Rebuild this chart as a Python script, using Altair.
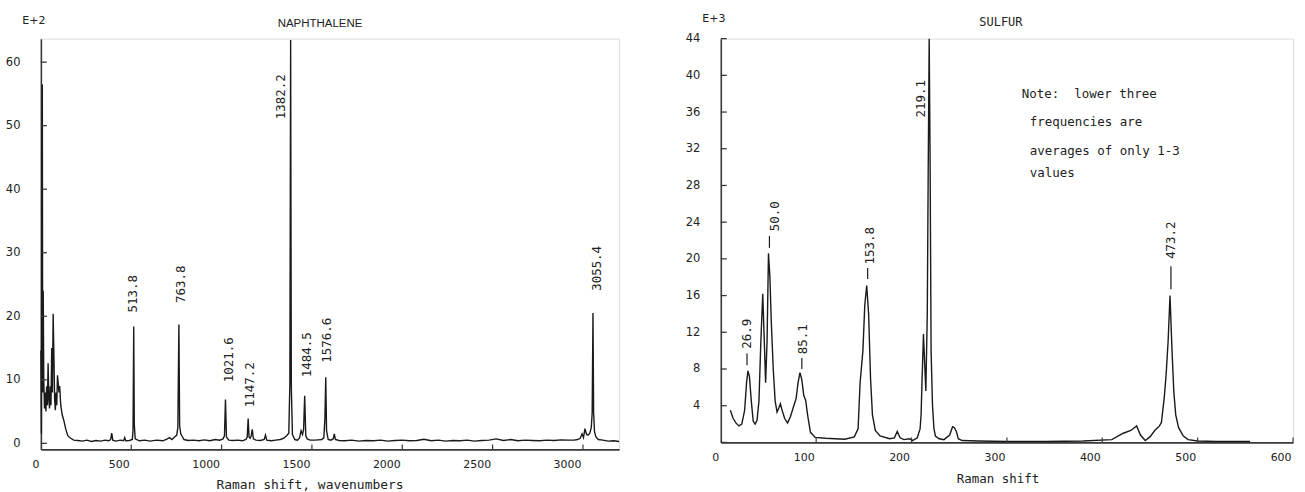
import altair as alt
import pandas as pd

# ---------------- Naphthalene (x: Raman shift, y: intensity in E+2) ----------------
naph_x = [
    0, 3, 6, 8, 10, 13, 16, 20, 24, 28,
    32, 36, 40, 44, 48, 52, 56, 60, 64, 68,
    72, 76, 80, 84, 88, 92, 96, 100, 104, 110,
    118, 127, 138, 149, 165, 182, 205, 230, 255, 280,
    305, 330, 355, 375, 386, 392, 398, 415, 440, 458,
    464, 470, 490, 506, 510, 513.8, 517, 522, 545, 575,
    605, 640, 675, 700, 712, 725, 740, 752, 758, 763.8,
    768, 774, 780, 792, 815, 845, 875, 905, 935, 965,
    990, 1008, 1016, 1021.6, 1027, 1040, 1065, 1090, 1115, 1135,
    1142, 1147.2, 1152, 1158, 1164, 1170, 1176, 1190, 1215, 1236,
    1243, 1250, 1275, 1300, 1325, 1345, 1360, 1372, 1378, 1382.2,
    1386, 1392, 1405, 1420, 1432, 1440, 1448, 1454, 1460, 1466,
    1474, 1490, 1515, 1535, 1555, 1566, 1572, 1576.6, 1581, 1590,
    1605, 1618, 1624, 1630, 1650, 1680, 1720, 1760, 1800, 1840,
    1880, 1920, 1960, 2000, 2040, 2080, 2120, 2160, 2200, 2240,
    2280, 2320, 2360, 2400, 2440, 2480, 2520, 2560, 2600, 2640,
    2680, 2720, 2760, 2800, 2840, 2880, 2920, 2950, 2970, 2985,
    2995, 3003, 3011, 3020, 3028, 3038, 3046, 3051, 3055.4, 3059,
    3064, 3072, 3085, 3110, 3140, 3170, 3200,
]
naph_y = [
    14.6, 1.5, 51.8, 56.5, 8, 24, 10, 5.5, 8, 5,
    9, 6, 12.6, 7, 5.5, 9, 6, 15, 8, 20.4,
    14, 7, 5.2, 8, 6, 10.7, 9.5, 8, 9, 6,
    4.5, 3.6, 2.2, 1.2, 0.8, 0.5, 0.45, 0.35, 0.5, 0.3,
    0.45, 0.35, 0.5, 0.4, 0.6, 1.6, 0.5, 0.35, 0.5, 0.4,
    0.9, 0.4, 0.45, 0.6, 2.0, 18.4, 3.0, 0.7, 0.4, 0.5,
    0.35, 0.5, 0.4, 0.7, 0.9, 0.6, 1.0, 1.3, 2.5, 18.7,
    2.8, 1.5, 1.2, 0.6, 0.45, 0.5, 0.4, 0.55, 0.4, 0.6,
    0.5, 0.7, 1.2, 6.9, 1.0, 0.5, 0.45, 0.5, 0.4, 0.6,
    1.0, 3.9, 1.0, 0.8, 1.2, 2.2, 0.7, 0.5, 0.45, 0.6,
    1.3, 0.5, 0.4, 0.5, 0.6, 0.8, 1.2, 1.6, 9.4, 63.5,
    9.0, 1.4, 0.6, 0.5, 0.9, 2.0, 1.4, 2.2, 7.5, 1.2,
    0.7, 0.5, 0.5, 0.55, 0.6, 0.9, 4.0, 10.4, 2.0, 0.6,
    0.5, 0.7, 1.5, 0.6, 0.45, 0.4, 0.5, 0.35, 0.45, 0.4,
    0.5, 0.35, 0.45, 0.5, 0.4, 0.45, 0.65, 0.4, 0.5, 0.35,
    0.45, 0.4, 0.5, 0.35, 0.45, 0.5, 0.7, 0.45, 0.6, 0.4,
    0.5, 0.45, 0.4, 0.5, 0.45, 0.55, 0.5, 0.5, 0.6, 0.8,
    1.5, 0.9, 2.3, 1.4, 1.3, 1.6, 2.5, 4.8, 20.5, 4.8,
    1.8, 1.0, 0.6, 0.5, 0.35, 0.4, 0.3,
]
naph_labels = ["513.8", "763.8", "1021.6", "1147.2", "1382.2", "1484.5", "1576.6", "3055.4"]
naph_label_x = [510, 778, 1043, 1159, 1330, 1473, 1583, 3079]
naph_label_y = [20.6, 22.1, 9.6, 5.7, 51, 10.4, 12.7, 24]
naph_xticks = [500, 1000, 1500, 2000, 2500, 3000]
naph_xlabels = [0, 500, 1000, 1500, 2000, 2500, 3000]
naph_yticks = [0, 10, 20, 30, 40, 50, 60]

# ---------------- Sulfur (x: Raman shift, y: intensity in E+3) ----------------
sul_x = [
    10, 13, 16, 19, 22, 25, 27, 28.5, 30, 32,
    34, 36, 38, 40, 42, 44, 45.5, 47, 48.5, 50,
    51.5, 53, 55, 57, 59, 61, 62.5, 64, 67, 70,
    73, 76, 79, 81, 83, 85, 87, 89, 91, 94,
    99, 110, 120, 130, 140, 144, 146, 149, 151, 153,
    155, 157, 159, 162, 167, 177, 182, 185, 188, 192,
    198, 201, 206, 209, 210, 211, 212.5, 214, 215, 216.5,
    217.5, 218.5, 219.5, 220.5, 222, 223.5, 225, 229, 234, 240,
    243, 245, 247, 249, 253, 270, 300, 340, 380, 410,
    422, 430, 436, 440, 445, 450, 455, 460, 462, 465,
    467, 469, 471, 473, 475, 477, 480, 485, 490, 500,
    520, 555,
]
sul_y = [
    3.5, 2.6, 2.1, 1.8, 2.0, 3.5, 6.5, 7.8, 7.2, 4.5,
    2.3, 2.0, 2.4, 4.5, 11, 16.2, 11.4, 6.5, 11, 20.6,
    18, 13, 8, 4.5, 3.3, 3.8, 4.2, 3.6, 2.6, 2.1,
    2.8, 3.8, 4.8, 6.5, 7.6, 6.8, 5.1, 4.6, 3.0, 1.1,
    0.55, 0.45, 0.4, 0.35, 0.6, 1.5, 6.4, 10, 15, 17.1,
    14, 7, 3, 1.3, 0.7, 0.4, 0.5, 1.2, 0.5, 0.3,
    0.4, 0.2, 0.5, 1.5, 3, 6.7, 11.8, 8, 5.6, 14,
    30, 44, 30, 10, 4, 1.5, 0.7, 0.4, 0.3, 0.8,
    1.7, 1.6, 1.2, 0.4, 0.2, 0.15, 0.1, 0.1, 0.15, 0.3,
    1.0, 1.3, 1.8, 0.8, 0.2, 0.6, 1.3, 1.8, 2.2, 4.9,
    7.5, 11, 16, 10.3, 5.5, 3.0, 1.6, 0.7, 0.3, 0.15,
    0.1, 0.1,
]
sul_labels = ["26.9", "50.0", "85.1", "153.8", "219.1", "473.2"]
sul_label_x = [27, 57, 86.5, 156, 210, 472]
sul_label_y = [10.2, 23, 9.6, 19.4, 35.4, 20]
sul_dash_x = [27.5, 51, 85, 154, 472]
sul_dash_y = [8.4, 21.2, 8.0, 17.8, 16.7]
sul_dash_y2 = [9.7, 22.5, 9.2, 19.0, 19.2]
sul_xticks = [100, 200, 300, 400, 500, 600]
sul_xlabels = [0, 100, 200, 300, 400, 500, 600]
sul_yticks = [0, 4, 8, 12, 16, 20, 24, 28, 32, 36, 40, 44]
note_lines = ["Note:\u00a0\u00a0lower three", "frequencies are", "averages of only 1-3", "values"]

assert len(naph_x) == len(naph_y)
assert len(sul_x) == len(sul_y)

SANS = "DejaVu Sans"
MONO = "DejaVu Sans Mono"
INK = "#1a1a1a"
AX = "#3a3a3a"
one = pd.DataFrame({"k": [0]})

W1, H1 = 580, 412
W2, H2 = 574, 405


def xaxis(values):
    return alt.Axis(values=values, format="d", title=None, ticks=False, tickSize=0, grid=False,
                    labelAlign="right", labelOffset=-2, labelPadding=9, labelFont=SANS,
                    labelFontSize=11, labelColor="#222", domainColor=AX, domainWidth=1.6)


def yaxis(values):
    return alt.Axis(values=values, format="d", title=None, ticks=False, tickSize=0, grid=False,
                    labelPadding=21, labelFont=SANS, labelFontSize=11.5, labelColor="#222",
                    domainColor=AX, domainWidth=1.6)


def ptext(txt, x, y, size, font, align="center"):
    return alt.Chart(one).mark_text(text=txt, font=font, fontSize=size, align=align,
                                    baseline="middle", color="#222").encode(
        x=alt.value(x), y=alt.value(y))


# ---------- left panel ----------
nxs = alt.Scale(domain=[0, 3200], nice=False, zero=False)
nys = alt.Scale(domain=[-0.95, 63.7], nice=False, zero=False)

n_line = alt.Chart(pd.DataFrame({"x": naph_x, "y": naph_y})).mark_line(
    color=INK, strokeWidth=1.4).encode(
    x=alt.X("x:Q", scale=nxs, axis=xaxis(naph_xlabels)),
    y=alt.Y("y:Q", scale=nys, axis=yaxis(naph_yticks)))

n_lab = alt.Chart(pd.DataFrame({"x": naph_label_x, "y": naph_label_y, "t": naph_labels})).mark_text(
    angle=270, align="left", baseline="middle", font=MONO, fontSize=12.5, color="#222").encode(
    x=alt.X("x:Q", scale=nxs), y=alt.Y("y:Q", scale=nys), text="t:N")

n_yt = alt.Chart(pd.DataFrame({"y": naph_yticks})).mark_rule(color=AX, strokeWidth=1.3).encode(
    y=alt.Y("y:Q", scale=nys), x=alt.value(0), x2=alt.value(6))
n_xt = alt.Chart(pd.DataFrame({"x": naph_xticks})).mark_rule(color=AX, strokeWidth=1.2).encode(
    x=alt.X("x:Q", scale=nxs), y=alt.value(H1), y2=alt.value(H1 - 5))

n_box = alt.Chart(one).mark_rule(opacity=0).encode(
    x=alt.value(-40), x2=alt.value(W1 + 60), y=alt.value(-37), y2=alt.value(H1 + 43))

left = alt.layer(
    n_box, n_line, n_lab, n_yt, n_xt,
    ptext("E+2", -7, -18, 11, SANS),
    ptext("NAPHTHALENE", 280, -15, 11.5, "Liberation Sans"),
    ptext("Raman shift, wavenumbers", 270, H1 + 36, 13, MONO),
).properties(width=W1, height=H1)

# ---------- right panel ----------
sxs = alt.Scale(domain=[0, 600], nice=False, zero=False)
sys_ = alt.Scale(domain=[0, 44], nice=False, zero=False)

s_line = alt.Chart(pd.DataFrame({"x": sul_x, "y": sul_y})).mark_line(
    color=INK, strokeWidth=1.4).encode(
    x=alt.X("x:Q", scale=sxs, axis=xaxis(sul_xlabels)),
    y=alt.Y("y:Q", scale=sys_, axis=yaxis([v for v in sul_yticks if v > 0])))

s_lab = alt.Chart(pd.DataFrame({"x": sul_label_x, "y": sul_label_y, "t": sul_labels})).mark_text(
    angle=270, align="left", baseline="middle", font=MONO, fontSize=12.5, color="#222").encode(
    x=alt.X("x:Q", scale=sxs), y=alt.Y("y:Q", scale=sys_), text="t:N")

s_dash = alt.Chart(pd.DataFrame({"x": sul_dash_x, "y": sul_dash_y, "y2": sul_dash_y2})).mark_rule(
    color=INK, strokeWidth=1.2).encode(
    x=alt.X("x:Q", scale=sxs), y=alt.Y("y:Q", scale=sys_), y2="y2:Q")

s_yt = alt.Chart(pd.DataFrame({"y": sul_yticks})).mark_rule(color=AX, strokeWidth=1.3).encode(
    y=alt.Y("y:Q", scale=sys_), x=alt.value(0), x2=alt.value(6))
s_xt = alt.Chart(pd.DataFrame({"x": sul_xticks})).mark_rule(color=AX, strokeWidth=1.2).encode(
    x=alt.X("x:Q", scale=sxs), y=alt.value(H2), y2=alt.value(H2 - 5))

s_box = alt.Chart(one).mark_rule(opacity=0).encode(
    x=alt.value(-40), x2=alt.value(W2 + 11), y=alt.value(-37), y2=alt.value(H2 + 50))

note = [ptext(note_lines[0], 302, 56, 12.5, MONO, "left")] + [
    ptext(t, 310, y, 12.5, MONO, "left") for t, y in zip(note_lines[1:], [84, 113, 135])]

right = alt.layer(
    s_box, s_line, s_lab, s_dash, s_yt, s_xt,
    ptext("E+3", -7, -20, 11, SANS),
    ptext("SULFUR", 281, -17, 12, MONO),
    ptext("Raman shift", 278, H2 + 37, 12.5, MONO),
    *note,
).properties(width=W2, height=H2)

chart = alt.hconcat(left, right, spacing=0).properties(padding=0).configure_view(
    stroke=None).configure(background="white")

chart.save("out.html", embed_options={"renderer": "svg", "actions": False})
